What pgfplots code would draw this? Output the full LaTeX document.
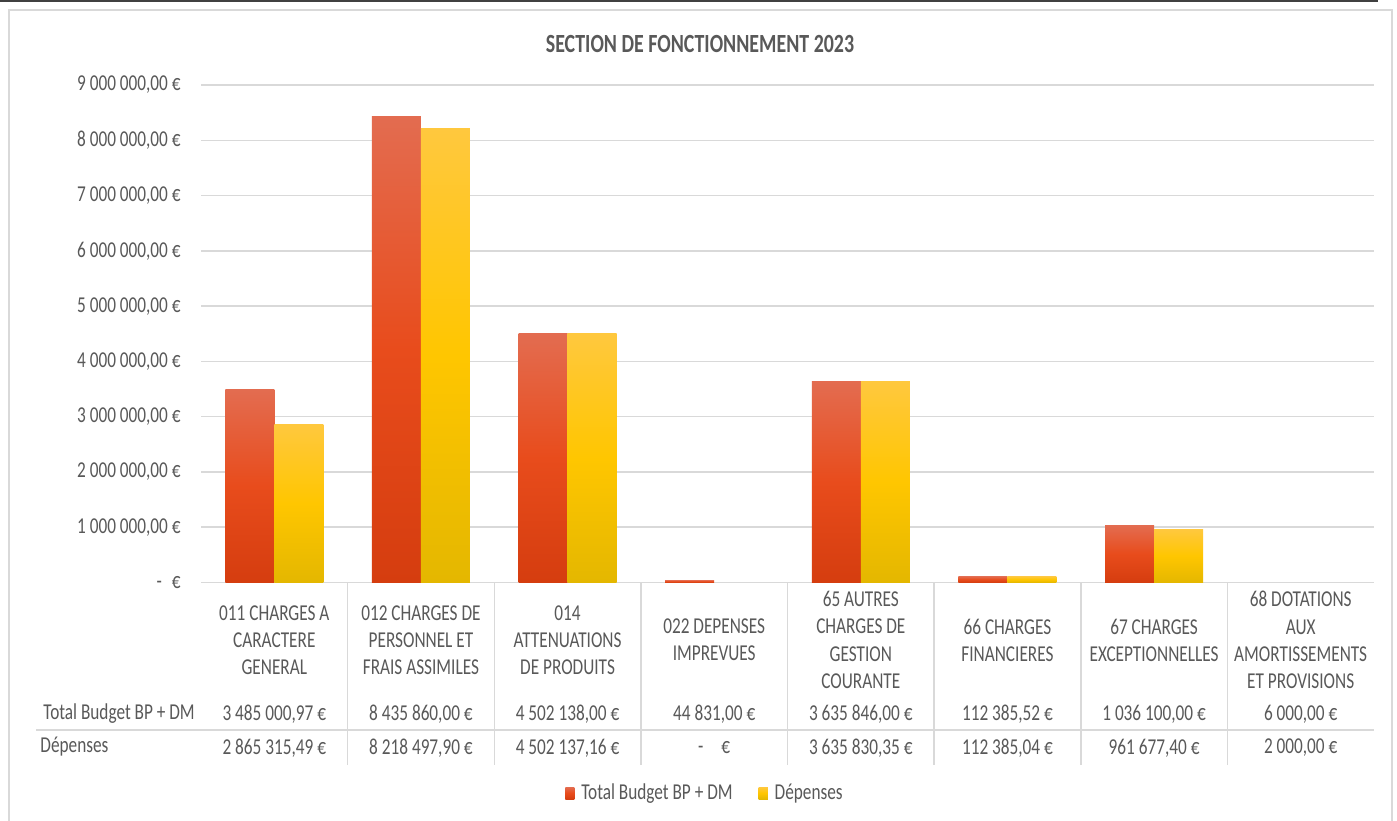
\documentclass[border=0pt]{standalone}
\usepackage{fontspec}
\setmainfont{Carlito}[FakeStretch=0.76]
\usepackage{pgfplots}
\pgfplotsset{compat=1.18}
\definecolor{txt}{HTML}{595959}
\definecolor{gridc}{HTML}{D9D9D9}
\definecolor{redtop}{HTML}{E36C50}
\definecolor{redmid}{HTML}{E84C1C}
\definecolor{redbot}{HTML}{D53D0F}
\definecolor{yeltop}{HTML}{FFC83E}
\definecolor{yelmid}{HTML}{FFC600}
\definecolor{yelbot}{HTML}{E4B700}
\newcommand{\lbl}{\fontsize{11.35}{13.6}\selectfont}
\pgfplotsset{
  sqlegend/.style={legend image code/.code={\path[##1] (0pt,-3pt) rectangle (4.6pt,3pt); \path (6pt,0pt);}},
  redfill/.style={draw=none, top color=redtop, bottom color=redbot, middle color=redmid},
  yelfill/.style={draw=none, top color=yeltop, bottom color=yelbot, middle color=yelmid},
  redbar/.style={redfill, bar shift=-12.25pt, forget plot},
  yelbar/.style={yelfill, bar shift=12.25pt, forget plot},
}
\begin{document}
\begin{tikzpicture}
\useasboundingbox (0,0) rectangle (698.5pt,-410pt);
\begin{scope}[x=0.5pt,y=-0.5pt]
\fill[white] (0,0) rectangle (1397,820);
\draw[color=black!75, line width=1pt] (0,1) -- (1378,1);
\draw[gridc, line width=1pt] (9,830) -- (9,10) -- (1392,10) -- (1392,830);
% title
\node[font=\fontsize{13.1}{15}\selectfont\bfseries, text=txt] at (700,44) {SECTION DE FONCTIONNEMENT 2023};
% data table lines
\draw[gridc, line width=0.75pt] (36,730) -- (1374,730);
\foreach \k in {1,...,7} {
  \draw[gridc, line width=0.75pt] ({201+146.625*\k},582.5) -- ({201+146.625*\k},765);
}
% row labels
\node[anchor=west, inner sep=0pt, font=\lbl, text=txt] at (43,714) {Total Budget BP + DM};
\node[anchor=west, inner sep=0pt, font=\lbl, text=txt] at (40,747) {Dépenses};
% row values
\foreach \v [count=\i from 0] in {{3 485 000,97 €}, {8 435 860,00 €}, {4 502 138,00 €}, {44 831,00 €}, {3 635 846,00 €}, {112 385,52 €}, {1 036 100,00 €}, {6 000,00 €}} {
  \node[font=\lbl, text=txt, inner sep=0pt] at ({201+146.625*(\i+0.5)},714) {\v};
}
\foreach \v [count=\i from 0] in {{2 865 315,49 €}, {8 218 497,90 €}, {4 502 137,16 €}, {-\hspace{9pt}€}, {3 635 830,35 €}, {112 385,04 €}, {961 677,40 €}, {2 000,00 €}} {
  \node[font=\lbl, text=txt, inner sep=0pt] at ({201+146.625*(\i+0.5)},748) {\v};
}
\end{scope}
\begin{axis}[
  at={(100.5pt,-291.25pt)}, anchor=south west,
  scale only axis, width=586.5pt, height=248.75pt,
  xmin=-0.5, xmax=7.5, ymin=0, ymax=9000000,
  ybar=0pt, bar width=24.5pt,
  axis line style={draw=none},
  ymajorgrids, grid style={gridc, line width=0.75pt},
  major tick length=0pt,
  scaled y ticks=false,
  ytick={0,1000000,2000000,3000000,4000000,5000000,6000000,7000000,8000000,9000000},
  yticklabels={{-\hspace{5pt}€},{1 000 000,00 €},{2 000 000,00 €},{3 000 000,00 €},{4 000 000,00 €},{5 000 000,00 €},{6 000 000,00 €},{7 000 000,00 €},{8 000 000,00 €},{9 000 000,00 €}},
  yticklabel style={anchor=east, inner sep=0pt, xshift=-10pt, font=\lbl, text=txt},
  xtick={0,1,2,3,4,5,6,7},
  xticklabels={{011 CHARGES A\\CARACTERE\\GENERAL},{012 CHARGES DE\\PERSONNEL ET\\FRAIS ASSIMILES},{014\\ATTENUATIONS\\DE PRODUITS},{022 DEPENSES\\IMPREVUES},{65 AUTRES\\CHARGES DE\\GESTION\\COURANTE},{66 CHARGES\\FINANCIERES},{67 CHARGES\\EXCEPTIONNELLES},{68 DOTATIONS\\AUX\\AMORTISSEMENTS\\ET PROVISIONS}},
  xticklabel style={anchor=center, yshift=-28.75pt, font=\lbl, text=txt, align=center, inner sep=0pt},
  clip=false,
  legend style={at={(0.4305,-0.4231)}, anchor=center, draw=none, fill=none, legend columns=2, font=\lbl, text=txt, /tikz/every even column/.append style={column sep=11pt}},
]
% Total Budget BP + DM (one plot per bar so each bar gets its own gradient)
\addplot[redbar] coordinates {(0,3485000.97)};
\addplot[redbar] coordinates {(1,8435860)};
\addplot[redbar] coordinates {(2,4502138)};
\addplot[redbar] coordinates {(3,44831)};
\addplot[redbar] coordinates {(4,3635846)};
\addplot[redbar] coordinates {(5,112385.52)};
\addplot[redbar] coordinates {(6,1036100)};
\addplot[redbar] coordinates {(7,6000)};
% Depenses (022: 0)
\addplot[yelbar] coordinates {(0,2865315.49)};
\addplot[yelbar] coordinates {(1,8218497.90)};
\addplot[yelbar] coordinates {(2,4502137.16)};
\addplot[yelbar] coordinates {(4,3635830.35)};
\addplot[yelbar] coordinates {(5,112385.04)};
\addplot[yelbar] coordinates {(6,961677.40)};
\addplot[yelbar] coordinates {(7,2000)};
\addlegendimage{redfill, sqlegend}
\addlegendentry{Total Budget BP + DM}
\addlegendimage{yelfill, sqlegend}
\addlegendentry{Dépenses}
\end{axis}
\end{tikzpicture}
\end{document}
